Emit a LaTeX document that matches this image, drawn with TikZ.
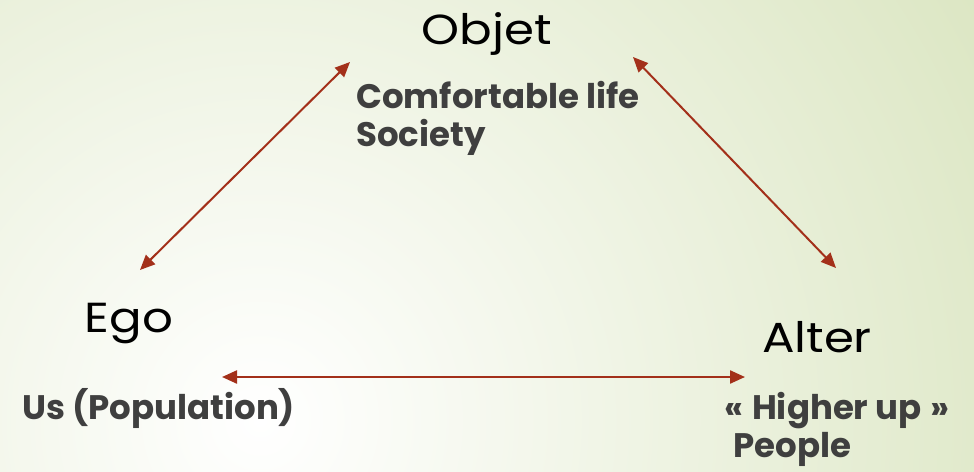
\documentclass[tikz,border=0pt]{standalone}
\usepackage{fontspec}
\setmainfont{Poppins}
\newfontfamily\widefont[FakeStretch=1.15]{Poppins}
\usetikzlibrary{arrows.meta}
\definecolor{arrowred}{HTML}{A3301A}
\definecolor{bggreen}{HTML}{DAE5C0}
\definecolor{subgray}{HTML}{3F3F3F}
\tikzset{
  mainlabel/.style={font=\widefont\fontsize{42}{46}\selectfont, text=black, inner sep=0pt},
  sublabel/.style={font=\fontsize{34}{38}\selectfont\bfseries, text=subgray, inner sep=0pt, align=left},
  link/.style={draw=arrowred, line width=2pt, {Triangle[length=15pt,width=13pt]}-{Triangle[length=15pt,width=13pt]}}
}
\begin{document}
\begin{tikzpicture}[x=1pt,y=-1pt]
\useasboundingbox (0,0) rectangle (974,471);
\begin{scope}
\clip (0,0) rectangle (974,471);
\shade[inner color=white, outer color=bggreen] (260,420) circle (880);
\end{scope}
\node[mainlabel, anchor=base] (objet) at (487,44) {Objet};
\node[mainlabel, anchor=base] (ego) at (129,332) {Ego};
\node[mainlabel, anchor=base] (alter) at (817,352) {Alter};
\node[sublabel, anchor=base west] (objsub) at (356,146) {Comfortable life\\Society};
\node[sublabel, anchor=base west] (egosub) at (22,419) {Us (Population)};
\node[sublabel, anchor=base west] (altsub) at (724,457) {«\hspace{9pt}Higher up\hspace{9pt}»\\\hspace*{9pt}People};
\coordinate (e1) at (140,270);
\coordinate (o1) at (350,62);
\coordinate (o2) at (633,57);
\coordinate (a1) at (836,268);
\coordinate (e2) at (222,377);
\coordinate (a2) at (745,377);
\draw[link] (e1) -- (o1);
\draw[link] (o2) -- (a1);
\draw[link, line width=2.3pt] (e2) -- (a2);
\end{tikzpicture}
\end{document}
